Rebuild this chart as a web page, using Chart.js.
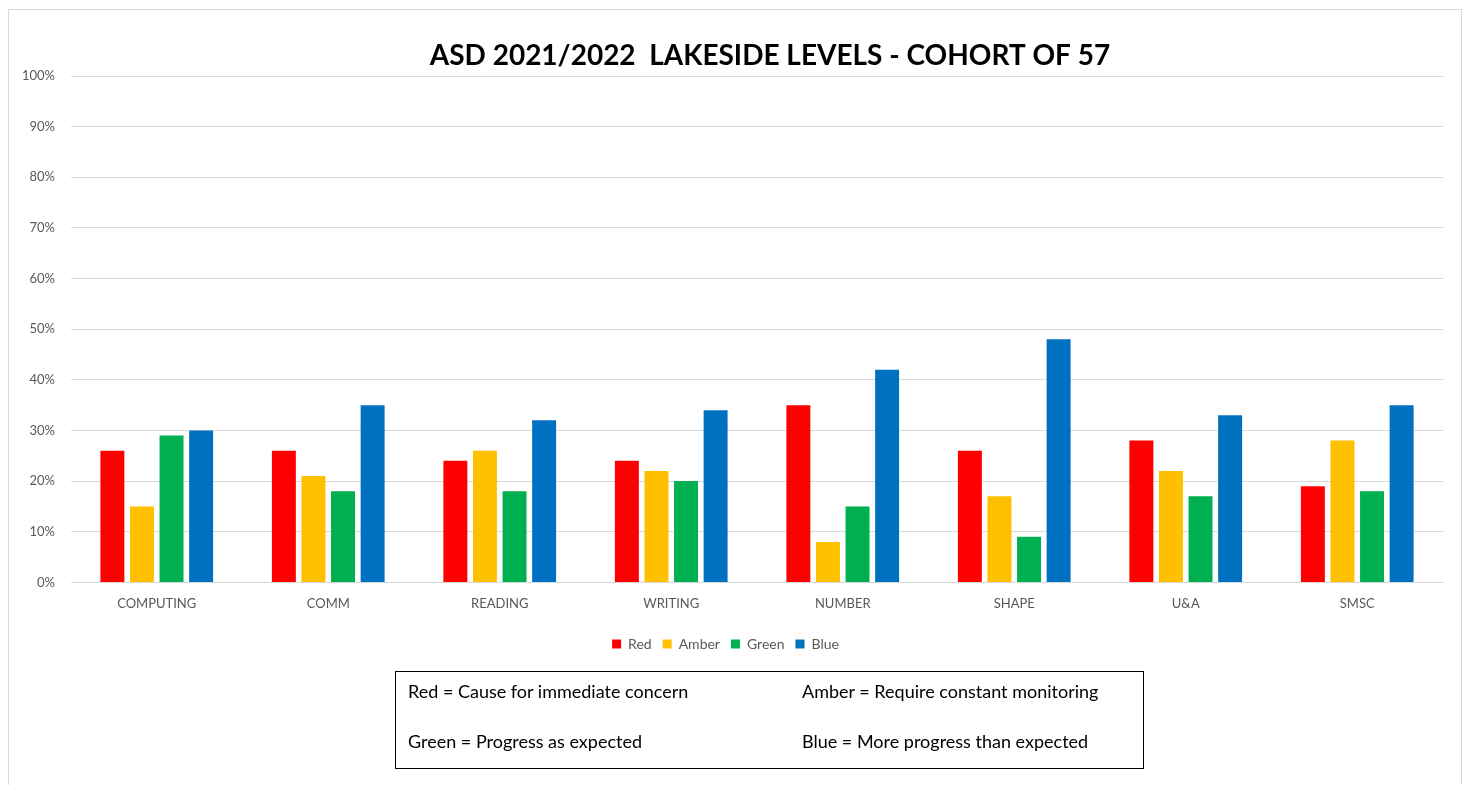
<!DOCTYPE html>
<html>
<head>
<meta charset="utf-8">
<script src="https://cdn.jsdelivr.net/npm/chart.js@4/dist/chart.umd.min.js"></script>
<style>
  html, body { margin: 0; padding: 0; background: #fff; overflow: hidden; }
  #frame { position: absolute; left: 8px; top: 9px; width: 1452px; height: 800px; border: 1px solid #d9d9d9; }
  #wrap { position: absolute; left: 0; top: 0; width: 1469px; height: 785px; }
  #key {
    position: absolute; left: 395px; top: 671px; width: 747px; height: 96px;
    border: 1px solid #000; font-family: Lato, "Liberation Sans", sans-serif; font-size: 18px; color: #000;
  }
  #key span { position: absolute; white-space: nowrap; }
</style>
</head>
<body>
<div id="frame"></div>
<div id="wrap"><canvas id="levels-chart" width="1469" height="785"></canvas></div>
<div id="key">
  <span style="left:12px; top:8px">Red = Cause for immediate concern</span>
  <span style="left:406px; top:8px">Amber = Require constant monitoring</span>
  <span style="left:12px; top:58px">Green = Progress as expected</span>
  <span style="left:406px; top:58px">Blue = More progress than expected</span>
</div>
<script>
const categories = ['COMPUTING', 'COMM', 'READING', 'WRITING', 'NUMBER', 'SHAPE', 'U&A', 'SMSC'];
const red = [26, 26, 24, 24, 35, 26, 28, 19];
const amber = [15, 21, 26, 22, 8, 17, 22, 28];
const green = [29, 18, 18, 20, 15, 9, 17, 18];
const blue = [30, 35, 32, 34, 42, 48, 33, 35];
const yTicks = [0, 10, 20, 30, 40, 50, 60, 70, 80, 90, 100];

const chartTitle = 'ASD 2021/2022  LAKESIDE LEVELS - COHORT OF 57';

// title is drawn by hand so it can sit a bit right of centre like the original
const titlePlugin = {
    id: 'titleText',
    afterDraw(chart) {
        const ctx = chart.ctx;
        ctx.save();
        ctx.font = 'bold 28px Lato, "Liberation Sans", sans-serif';
        ctx.fillStyle = '#000';
        ctx.textAlign = 'center';
        ctx.textBaseline = 'middle';
        ctx.fillText(chartTitle, 770, 56);
        ctx.restore();
    }
};

function dataset(label, values, color) {
    return { label: label, data: values, backgroundColor: color, borderWidth: 0 };
}

new Chart(document.getElementById('levels-chart'), {
    type: 'bar',
    data: {
        labels: categories,
        datasets: [
            dataset('Red', red, '#ff0000'),
            dataset('Amber', amber, '#ffc000'),
            dataset('Green', green, '#00b050'),
            dataset('Blue', blue, '#0070c0')
        ]
    },
    plugins: [titlePlugin],
    options: {
        responsive: false,
        animation: false,
        categoryPercentage: 0.69,
        barPercentage: 0.81,
        layout: { padding: { left: 8, right: 26, top: 76, bottom: 124 } },
        scales: {
            x: {
                grid: { display: false, drawTicks: false },
                border: { color: '#d9d9d9', width: 1 },
                ticks: { color: '#595959', padding: 14, font: { family: 'Lato, "Liberation Sans", sans-serif', size: 13 } }
            },
            y: {
                min: 0, max: 100,
                afterFit: scale => { scale.width = 63; },
                afterBuildTicks: scale => { scale.ticks = yTicks.map(v => ({ value: v })); },
                grid: { color: '#d9d9d9', drawTicks: false },
                border: { display: false },
                ticks: {
                    color: '#595959', padding: 16,
                    font: { family: 'Lato, "Liberation Sans", sans-serif', size: 13 },
                    callback: v => v + '%'
                }
            }
        },
        plugins: {
            title: { display: false },
            tooltip: { enabled: false },
            legend: {
                position: 'bottom',
                labels: {
                    color: '#595959', boxWidth: 9, boxHeight: 9, padding: 11,
                    font: { family: 'Lato, "Liberation Sans", sans-serif', size: 14 }
                }
            }
        }
    }
});
</script>
</body>
</html>
